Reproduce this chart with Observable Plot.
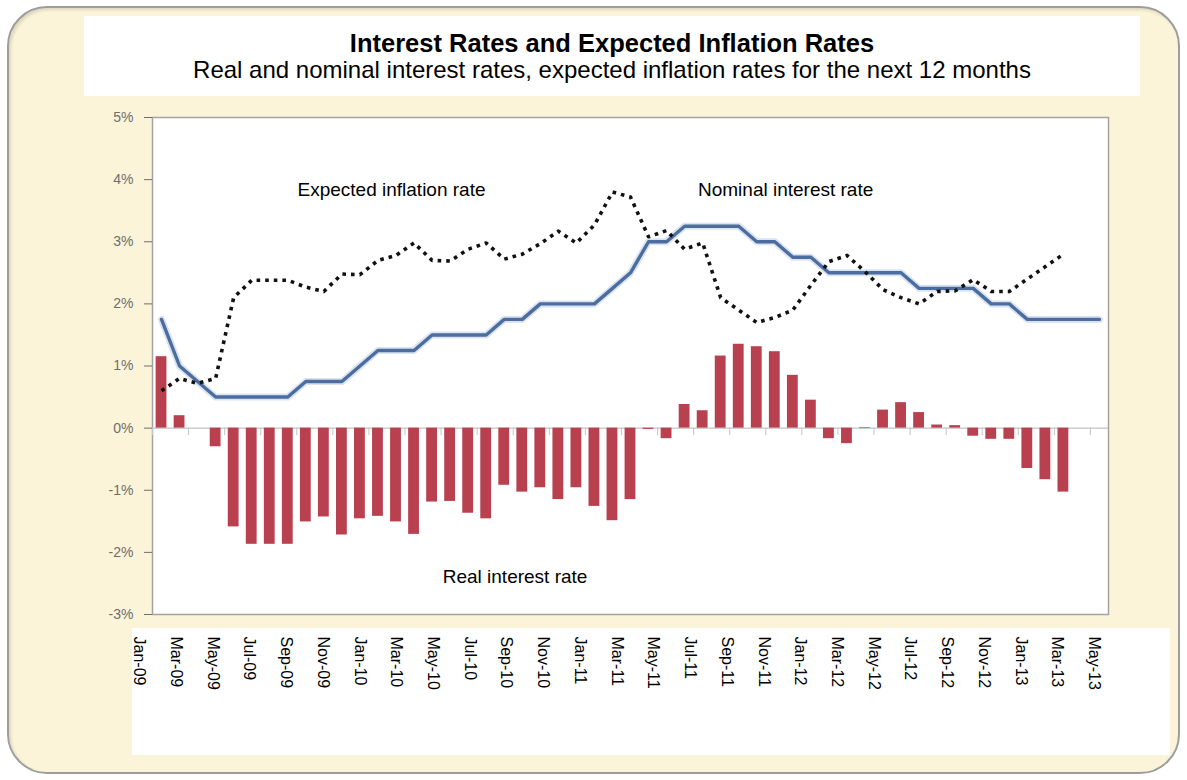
<!DOCTYPE html>
<html>
<head>
<meta charset="utf-8">
<script src="https://cdn.jsdelivr.net/npm/d3@7"></script>
<script src="https://cdn.jsdelivr.net/npm/@observablehq/plot@0.6"></script>
<style>
  html, body { margin: 0; padding: 0; background: #ffffff; }
  #wrap { position: relative; width: 1187px; height: 780px; overflow: hidden; font-family: Arial, "Liberation Sans", sans-serif; }
  #bg { position: absolute; left: 7px; top: 6px; width: 1169px; height: 764px; background: #fcf4d9; border: 2px solid #9d9d9d; border-radius: 40px; box-shadow: inset 2px 2px 3px rgba(0,0,0,0.12); }
  #titlebox { position: absolute; left: 84px; top: 16px; width: 1056px; height: 80px; background: #ffffff; text-align: center; color: #000; }
  #title { font-weight: bold; font-size: 25.5px; line-height: 28px; padding-top: 13px; }
  #subtitle { font-size: 24px; line-height: 26px; }
  #main { position: absolute; left: 0px; top: 90px; }
  #labels { position: absolute; left: 132px; top: 628px; width: 1038px; height: 127px; background: #ffffff; }
</style>
</head>
<body>
<div id="wrap">
  <div id="bg"></div>
  <div id="titlebox">
    <div id="title">Interest Rates and Expected Inflation Rates</div>
    <div id="subtitle">Real and nominal interest rates, expected inflation rates for the next 12 months</div>
  </div>
  <div id="main"></div>
  <div id="labels"></div>
</div>
<script>
// Months (category axis), Jan-09 .. May-13
const months = [
  "Jan-09","Feb-09","Mar-09","Apr-09","May-09","Jun-09","Jul-09","Aug-09","Sep-09","Oct-09","Nov-09","Dec-09",
  "Jan-10","Feb-10","Mar-10","Apr-10","May-10","Jun-10","Jul-10","Aug-10","Sep-10","Oct-10","Nov-10","Dec-10",
  "Jan-11","Feb-11","Mar-11","Apr-11","May-11","Jun-11","Jul-11","Aug-11","Sep-11","Oct-11","Nov-11","Dec-11",
  "Jan-12","Feb-12","Mar-12","Apr-12","May-12","Jun-12","Jul-12","Aug-12","Sep-12","Oct-12","Nov-12","Dec-12",
  "Jan-13","Feb-13","Mar-13","Apr-13","May-13"
];

// Nominal interest rate (%), Jan-09 .. May-13
const nominalRate = [
  1.75, 1.0, 0.75, 0.5, 0.5, 0.5, 0.5, 0.5, 0.75, 0.75, 0.75, 1.0,
  1.25, 1.25, 1.25, 1.5, 1.5, 1.5, 1.5, 1.75, 1.75, 2.0, 2.0, 2.0,
  2.0, 2.25, 2.5, 3.0, 3.0, 3.25, 3.25, 3.25, 3.25, 3.0, 3.0, 2.75,
  2.75, 2.5, 2.5, 2.5, 2.5, 2.5, 2.25, 2.25, 2.25, 2.25, 2.0, 2.0,
  1.75, 1.75, 1.75, 1.75, 1.75
];

// Expected inflation rate for next 12 months (%), Jan-09 .. Mar-13
const expectedInflation = [
  0.6, 0.8, 0.72, 0.8, 2.1, 2.38, 2.38, 2.38, 2.27, 2.2, 2.48, 2.47,
  2.7, 2.78, 2.98, 2.7, 2.69, 2.88, 2.98, 2.72, 2.8, 2.97, 3.17, 2.98,
  3.27, 3.8, 3.72, 3.08, 3.18, 2.88, 2.98, 2.1, 1.9, 1.7, 1.78, 1.9,
  2.3, 2.68, 2.78, 2.52, 2.23, 2.1, 2.0, 2.2, 2.21, 2.39, 2.2, 2.2,
  2.4, 2.6, 2.8
];

// Real interest rate (%), Jan-09 .. Mar-13
const realRate = [
  1.15, 0.2, 0.0, -0.3, -1.59, -1.87, -1.87, -1.87, -1.51, -1.43, -1.72, -1.46,
  -1.42, -1.51, -1.71, -1.19, -1.18, -1.37, -1.46, -0.92, -1.03, -0.96, -1.15, -0.96,
  -1.26, -1.49, -1.15, -0.02, -0.17, 0.38, 0.28, 1.16, 1.35, 1.31, 1.23, 0.85,
  0.45, -0.17, -0.25, 0.01, 0.29, 0.41, 0.25, 0.05, 0.04, -0.13, -0.18, -0.18,
  -0.65, -0.83, -1.03
];

// Y-axis ticks (%)
const yTicks = [-3, -2, -1, 0, 1, 2, 3, 4, 5];

// Series labels placed in the plot (month index, value)
const seriesLabels = ["Expected inflation rate", "Nominal interest rate", "Real interest rate"];
const seriesLabelMonth = [12.75, 34.6, 19.6];
const seriesLabelValue = [3.83, 3.83, -2.4];

// Build tables for the library
const nominalData = nominalRate.map((v, i) => ({i, v}));
const inflData = expectedInflation.map((v, i) => ({i, v}));
const realData = realRate.map((v, i) => ({i, v}));
const labelData = seriesLabels.map((t, k) => ({t, i: seriesLabelMonth[k], v: seriesLabelValue[k]}));
const tickIdx = months.map((m, i) => i).filter(i => i % 2 === 0);
const tickBoundaries = tickIdx.map(i => i - 0.5);

const font = 'Arial, "Liberation Sans", sans-serif';

const main = Plot.plot({
  width: 1187,
  height: 540,
  marginTop: 27,
  marginBottom: 16,
  marginLeft: 152,
  marginRight: 79,
  style: {background: "transparent", fontFamily: font, overflow: "visible"},
  x: {domain: [-0.5, 52.5], axis: null},
  y: {domain: [-3, 5], label: null},
  marks: [
    Plot.frame({fill: "#ffffff", stroke: "#a3a3a3", strokeWidth: 1.5}),
    Plot.axisY({ticks: yTicks, tickFormat: d => d + "%", tickSize: 8, tickPadding: 11, fontSize: 14, color: "#6e6e6e", label: null}),
    Plot.ruleY([0], {stroke: "#b4b4b4", strokeWidth: 1}),
    Plot.ruleX(tickBoundaries, {y1: 0, y2: -0.12, stroke: "#c4c4c4", strokeWidth: 1}),
    Plot.rectY(realData, {x1: d => d.i - 0.3, x2: d => d.i + 0.3, y1: 0, y2: "v", fill: "#b8404f"}),
    Plot.line(nominalData, {x: "i", y: "v", stroke: "#c3d1e6", strokeWidth: 7, strokeOpacity: 0.6}),
    Plot.line(nominalData, {x: "i", y: "v", stroke: "#4b6d9f", strokeWidth: 3.4}),
    Plot.line(inflData, {x: "i", y: "v", stroke: "#111111", strokeWidth: 3.6, strokeDasharray: "3.6,5", strokeLinecap: "butt"}),
    Plot.text(labelData, {x: "i", y: "v", text: "t", fontSize: 19, fill: "#000000", textAnchor: "middle"})
  ]
});
document.getElementById("main").appendChild(main);

const strip = Plot.plot({
  width: 1038,
  height: 127,
  marginTop: 8,
  marginBottom: 0,
  marginLeft: 13,
  marginRight: 70,
  style: {background: "transparent", fontFamily: font, overflow: "visible"},
  x: {domain: [0, 52], axis: null},
  marks: [
    Plot.text(tickIdx, {x: d => d, text: d => months[d], frameAnchor: "top", rotate: 90, textAnchor: "start", fontSize: 16, fill: "#000000"})
  ]
});
document.getElementById("labels").appendChild(strip);
</script>
</body>
</html>
